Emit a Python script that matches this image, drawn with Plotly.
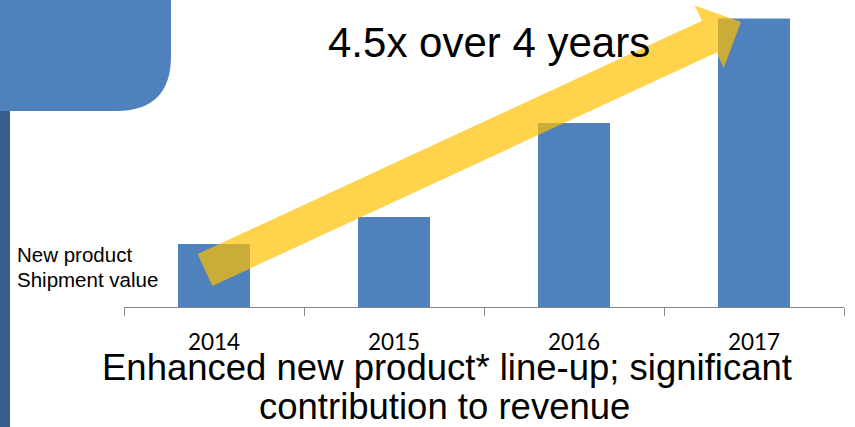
import math
import plotly.graph_objects as go

# ---- data ----
years = ["2014", "2015", "2016", "2017"]
shipment_index = [1.00, 1.43, 2.92, 4.58]   # new product shipment value (2014 = 1)

headline = "4.5x over 4 years"
axis_title_lines = ["New product", "Shipment value"]
caption_lines = ["Enhanced new product* line-up; significant", "contribution to revenue"]

W, H = 855, 427
FONT = "Liberation Sans, Arial, sans-serif"


def px(x):
    return x / W


def py(y):
    return 1 - y / H


fig = go.Figure(
    go.Bar(x=years, y=shipment_index, marker=dict(color="#4F81BD", line=dict(width=0)),
           width=0.4, hoverinfo="skip")
)

fig.update_layout(
    width=W, height=H, margin=dict(l=0, r=0, t=0, b=0),
    plot_bgcolor="white", paper_bgcolor="white", showlegend=False,
    xaxis=dict(domain=[124 / W, 844 / W], type="category", range=[-0.5, 3.5],
               showline=True, linecolor="#868686", linewidth=1,
               ticks="outside", tickson="boundaries", ticklen=8, tickcolor="#868686",
               tickfont=dict(family="Lato, Liberation Sans, sans-serif", size=22.5, color="black"),
               ticklabelstandoff=15,
               showgrid=False, zeroline=False, automargin=False, fixedrange=True),
    yaxis=dict(domain=[1 - 307 / H, 1], range=[0, 4.873], visible=False,
               automargin=False, fixedrange=True),
)

shapes = []
# blue rounded panel top-left
shapes.append(dict(
    type="path", xref="paper", yref="paper", layer="below",
    path=(f"M 0,{py(0)} L {px(171)},{py(0)} L {px(171)},{py(56)} "
          f"Q {px(171)},{py(111)} {px(116)},{py(111)} L 0,{py(111)} Z"),
    fillcolor="#4F81BD", line=dict(width=0)))
# dark vertical strip on left edge
shapes.append(dict(type="rect", xref="paper", yref="paper", layer="below",
                   x0=0, x1=px(10), y0=py(427), y1=py(111),
                   fillcolor="#385D8A", line=dict(width=0)))

# yellow arrow
tx, ty = 205, 270
tipx, tipy = 741, 22
L = math.hypot(tipx - tx, tipy - ty)
ux, uy = (tipx - tx) / L, (tipy - ty) / L
nx, ny = -uy, ux
hw, hh, shaft = 17.5, 34.5, L - 35


def pt(a, b):
    return (tx + a * ux + b * nx, ty + a * uy + b * ny)


poly = [pt(0, -hw), pt(shaft, -hw), pt(shaft, -hh), pt(L, 0), pt(shaft, hh), pt(shaft, hw), pt(0, hw)]
path = "M " + " L ".join(f"{px(x)},{py(y)}" for x, y in poly) + " Z"
shapes.append(dict(type="path", xref="paper", yref="paper", layer="above", path=path,
                   fillcolor="#FFC000", opacity=0.7, line=dict(width=0)))
fig.update_layout(shapes=shapes)


def text_at(text, x, baseline, size, xanchor="center"):
    fig.add_annotation(text=text, x=px(x), y=py(baseline + 0.212 * size), xref="paper", yref="paper",
                       xanchor=xanchor, yanchor="bottom", showarrow=False,
                       borderpad=0, borderwidth=0,
                       font=dict(family=FONT, size=size, color="black"))


text_at(axis_title_lines[0], 17, 262, 20.5, "left")
text_at(axis_title_lines[1], 17, 287, 20.5, "left")
text_at(headline, 489, 57, 42)
text_at(caption_lines[0], 446.5, 380, 36.5)
text_at(caption_lines[1], 444.5, 419, 36.5)

fig.write_html("out.html", config=dict(displayModeBar=False))
